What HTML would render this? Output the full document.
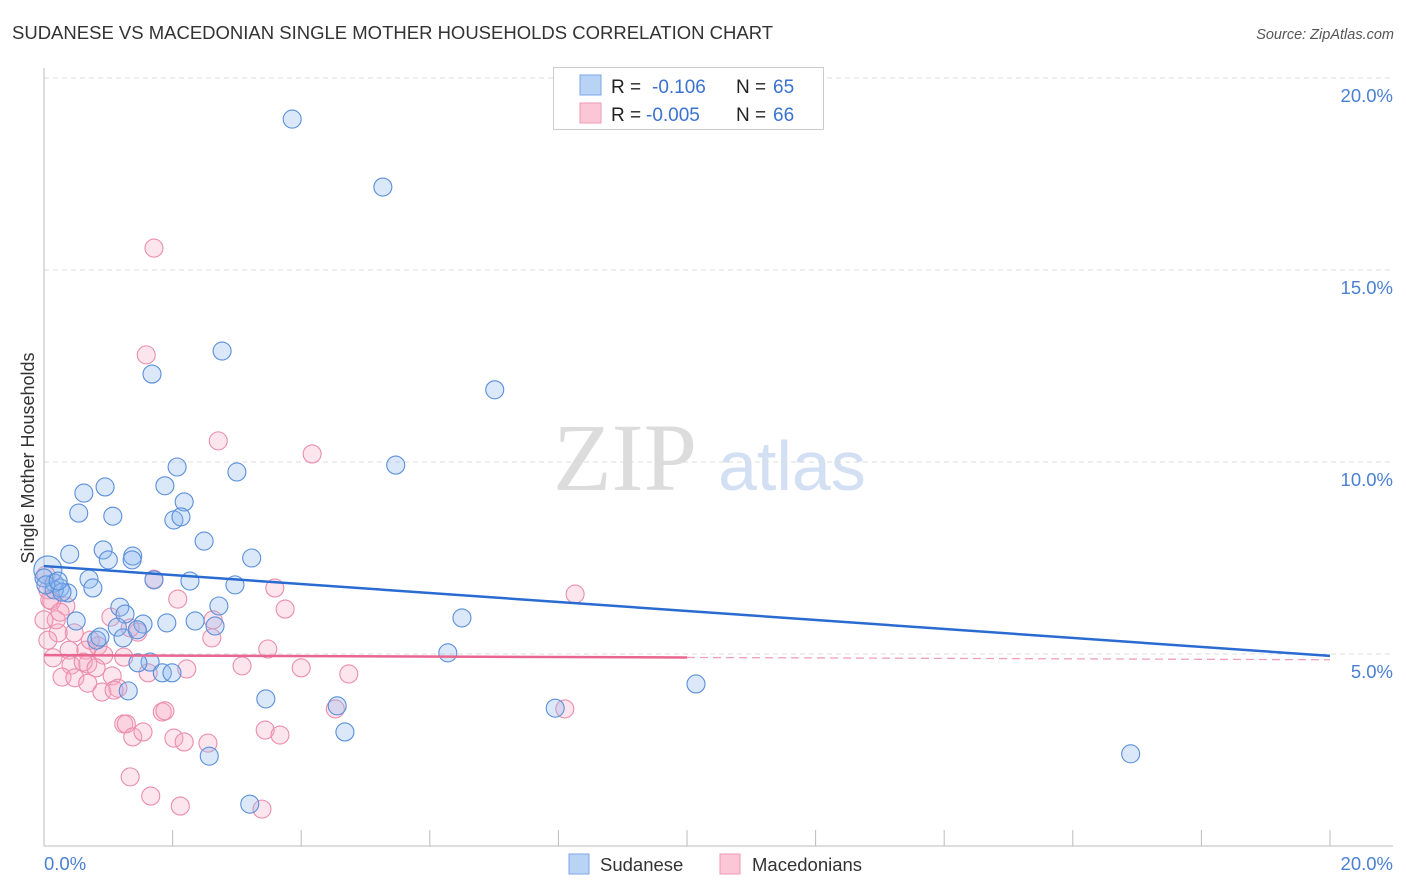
<!DOCTYPE html>
<html><head><meta charset="utf-8"><style>
body{margin:0;background:#fff;font-family:"Liberation Sans",sans-serif;}
svg{display:block}
</style></head><body>
<svg id="chart" width="1406" height="892" xmlns="http://www.w3.org/2000/svg">
<text x="12" y="39" font-size="18.5" fill="#333">SUDANESE VS MACEDONIAN SINGLE MOTHER HOUSEHOLDS CORRELATION CHART</text>
<text x="1394" y="39" font-size="14.5" fill="#555" font-style="italic" text-anchor="end">Source: ZipAtlas.com</text>
<text x="553" y="490" font-family="Liberation Serif,serif" font-size="96" fill="#dcdcdc">ZIP</text>
<text x="718" y="490" font-size="70" fill="#d3e0f3">atlas</text>
<g id="grid"></g>
<g id="axes"></g>
<g id="pts"></g>
<g id="trend"></g>
<text transform="translate(34,458) rotate(-90)" font-size="18" fill="#333" text-anchor="middle">Single Mother Households</text>
<g>
<rect x="553.5" y="67.5" width="270" height="62" fill="#fff" stroke="#ccc"/>
<rect x="580" y="75" width="21" height="20" fill="#b9d3f5" stroke="#7aa6e6"/>
<rect x="580" y="103" width="21" height="20" fill="#fbc7d6" stroke="#ee9ab4"/>
<text x="611" y="93" font-size="19" fill="#222">R =</text>
<text x="652" y="93" font-size="19" fill="#3a72d0">-0.106</text>
<text x="736" y="93" font-size="19" fill="#222">N =</text>
<text x="773" y="93" font-size="19" fill="#3a72d0">65</text>
<text x="611" y="121" font-size="19" fill="#222">R =</text>
<text x="646" y="121" font-size="19" fill="#3a72d0">-0.005</text>
<text x="736" y="121" font-size="19" fill="#222">N =</text>
<text x="773" y="121" font-size="19" fill="#3a72d0">66</text>
</g>
<g>
<rect x="569" y="854" width="20" height="20" fill="#b9d3f5" stroke="#7aa6e6"/>
<text x="600" y="871" font-size="18.5" fill="#333">Sudanese</text>
<rect x="720" y="854" width="20" height="20" fill="#fbc7d6" stroke="#ee9ab4"/>
<text x="752" y="871" font-size="18.5" fill="#333">Macedonians</text>
</g>
</svg>
<script>
const yTicks=[5,10,15,20];
const yTickLabels=["5.0%","10.0%","15.0%","20.0%"];
const xTicks=[0,2,4,6,8,10,12,14,16,18,20];
const xLabels=["0.0%","20.0%"];
const sudX=[3.86,5.27,2.77,1.68,7.01,5.47,2.07,3.00,0.62,0.95,1.88,2.18,0.54,1.07,2.02,2.13,2.49,0.40,0.92,1.38,1.00,1.37,3.23,1.71,0.70,2.27,2.97,0.06,0.16,0.25,0.76,0.37,1.18,1.26,0.50,1.54,1.91,2.35,2.72,2.66,6.50,1.14,0.82,0.87,1.23,1.45,6.28,1.65,1.46,1.84,1.99,1.31,10.14,3.45,4.56,7.95,4.68,2.57,16.90,3.20,0.16,0.0,0.03,0.28,0.22];
const sudY=[18.93,17.16,12.89,12.29,11.88,9.92,9.87,9.74,9.19,9.35,9.38,8.96,8.67,8.59,8.49,8.57,7.94,7.60,7.71,7.55,7.45,7.45,7.50,6.93,6.95,6.90,6.80,7.19,6.85,6.72,6.72,6.59,6.22,6.04,5.86,5.78,5.81,5.86,6.25,5.73,5.94,5.70,5.36,5.44,5.42,5.63,5.03,4.79,4.77,4.51,4.51,4.04,4.22,3.83,3.65,3.59,2.97,2.34,2.40,1.09,6.67,6.98,6.80,6.61,6.90];
const macX=[1.71,1.59,2.71,4.17,8.26,1.71,3.59,2.08,3.75,0.34,0.12,0.06,0.19,2.61,1.04,2.63,0.47,0.22,1.46,1.34,0.65,0.39,0.14,0.84,0.93,1.24,0.42,0.68,1.06,1.62,2.22,3.08,3.48,4.00,4.74,0.61,0.28,0.48,0.81,0.90,1.15,1.09,0.68,1.84,1.88,4.53,8.10,1.24,1.28,1.38,1.54,2.02,2.18,2.55,3.44,3.67,1.34,1.66,2.12,3.39,0,0.06,0.09,0.25,0.03,0.72];
const macY=[15.57,12.79,10.55,10.21,6.56,6.95,6.72,6.43,6.17,6.25,6.38,6.67,5.89,5.42,5.96,5.89,5.55,5.55,5.57,5.68,5.10,5.10,4.90,5.21,4.97,4.92,4.71,4.74,4.43,4.51,4.61,4.69,5.13,4.64,4.48,4.79,4.40,4.38,4.64,4.01,4.11,4.06,4.24,3.49,3.52,3.57,3.57,3.18,3.18,2.84,2.97,2.81,2.71,2.68,3.02,2.89,1.80,1.30,1.04,0.96,5.89,5.36,6.41,6.09,7.06,5.36];
const sudTrend=[7.29,4.95];
const macTrend=[4.97,4.85];
const macSolidEnd=10;
const bigIdx=27;
const NS="http://www.w3.org/2000/svg";
const X=v=>44+v/20*1286, Y=v=>846-v*38.4;
function mk(tag,attrs,parent){const e=document.createElementNS(NS,tag);for(const k in attrs)e.setAttribute(k,attrs[k]);parent.appendChild(e);return e;}
const grid=document.getElementById('grid'),axes=document.getElementById('axes'),pts=document.getElementById('pts'),tr=document.getElementById('trend');
yTicks.forEach((t,i)=>{
 const l=mk('line',{x1:44,x2:1393,y1:Y(t),y2:Y(t),stroke:'#ddd','stroke-dasharray':'5,4'},grid);
 
 
 const tx=mk('text',{x:1393,y:Y(t)+24,'font-size':18.5,fill:'#4a7fd4','text-anchor':'end'},grid);
 tx.textContent=yTickLabels[i];
 
 
});
const yl=mk('line',{x1:44,x2:44,y1:68,y2:846,stroke:'#bbb'},axes);


const xl=mk('line',{x1:44,x2:1393,y1:846,y2:846,stroke:'#bbb'},axes);


xTicks.forEach(t=>{const l=mk('line',{x1:X(t),x2:X(t),y1:830,y2:846,stroke:'#bbb'},axes);
 
 });
[[0,'start'],[20,'end']].forEach(([v,a],i)=>{const t=mk('text',{x:i?1393:44,y:870,'font-size':18.5,fill:'#4a7fd4','text-anchor':a},axes);t.textContent=xLabels[i];
 
 });
function dots(xs,ys,fill,stroke,name){xs.forEach((x,i)=>{
 const r=(name==='sudanese-point'&&i===bigIdx)?14:9;
 const c=mk('circle',{cx:X(x),cy:Y(ys[i]),r:r,fill:fill,stroke:stroke,'stroke-width':1.1},pts);
 
 });}
dots(macX,macY,'rgba(248,170,196,0.3)','#ea8dab','macedonian-point');
dots(sudX,sudY,'rgba(140,182,238,0.32)','#5a8fda','sudanese-point');
const bt=mk('line',{x1:X(0),y1:Y(sudTrend[0]),x2:X(20),y2:Y(sudTrend[1]),stroke:'#2a6bd1','stroke-width':2.5},tr);


const pm=macTrend[0]+(macTrend[1]-macTrend[0])*macSolidEnd/20;
const pt=mk('line',{x1:X(0),y1:Y(macTrend[0]),x2:X(macSolidEnd),y2:Y(pm),stroke:'#e8668f','stroke-width':2.5},tr);


const pd=mk('line',{x1:X(macSolidEnd),y1:Y(pm),x2:X(20),y2:Y(macTrend[1]),stroke:'#eea0b8','stroke-width':1.3,'stroke-dasharray':'8,5'},tr);


</script>
</body></html>
